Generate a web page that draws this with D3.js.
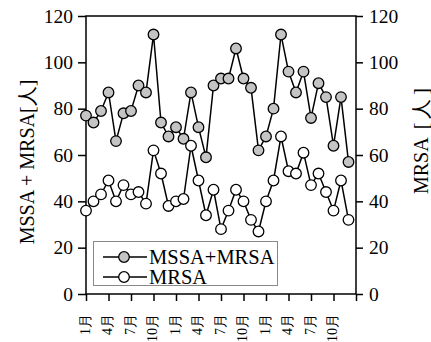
<!DOCTYPE html>
<html>
<head>
<meta charset="utf-8">
<script src="https://cdn.jsdelivr.net/npm/d3@7"></script>
<style>
  body { margin: 0; background: #fff; }
  svg { display: block; font-family: "Liberation Serif", "Times New Roman", Times, "DejaVu Serif", serif; }
</style>
</head>
<body>
<svg id="chart" width="431" height="342"></svg>
<script>
// Data
const monthIndex = d3.range(36);
const totalCases = [77, 74, 79, 87, 66, 78, 79, 90, 87, 112, 74, 68, 72, 67, 87, 72, 59, 90,
                    93, 93, 106, 93, 89, 62, 68, 80, 112, 96, 87, 96, 76, 91, 85, 64, 85, 57];
const mrsaCases = [36, 40, 43, 49, 40, 47, 43, 44, 39, 62, 52, 38, 40, 41, 64, 49, 34, 45,
                   28, 36, 45, 40, 32, 27, 40, 49, 68, 53, 52, 61, 47, 52, 44, 36, 49, 32];
const tickMonths = [0, 3, 6, 9, 12, 15, 18, 21, 24, 27, 30, 33];
const tickLabels = ['1月', '4月', '7月', '10月', '1月', '4月', '7月', '10月', '1月', '4月', '7月', '10月'];
const yTicks = [0, 20, 40, 60, 80, 100, 120];

const svg = d3.select('#chart');
const plotL = 86, plotR = 356, plotT = 16, plotB = 294;

const x = d3.scaleLinear().domain([0, 36]).range([plotL, plotR]);
const yL = d3.scaleLinear().domain([0, 120]).range([plotB, plotT]);
const yR = d3.scaleLinear().domain([0, 120]).range([plotB, plotT]);

// Frame
svg.append('rect')
    .attr('x', plotL).attr('y', plotT)
    .attr('width', plotR - plotL).attr('height', plotB - plotT)
    .attr('fill', 'none').attr('stroke', '#000').attr('stroke-width', 1.5);

// Left axis
const axL = svg.append('g')
    .attr('transform', `translate(${plotL},0)`)
    .call(d3.axisLeft(yL).tickValues(yTicks).tickSize(8).tickPadding(5));
// Right axis
const axR = svg.append('g')
    .attr('transform', `translate(${plotR},0)`)
    .call(d3.axisRight(yR).tickValues(yTicks).tickSize(7).tickPadding(6));
// Bottom axis
const axB = svg.append('g')
    .attr('transform', `translate(0,${plotB})`)
    .call(d3.axisBottom(x).tickValues(tickMonths.concat([36])).tickSize(7).tickFormat(''));

[axL, axR, axB].forEach(a => {
    a.attr('font-family', null).attr('font-size', 19.5);
    a.select('.domain').remove();
    a.selectAll('line').attr('stroke', '#000').attr('stroke-width', 1.5);
    a.selectAll('text').attr('fill', '#000');
});

// Rotated month labels
svg.selectAll('.xlab')
    .data(tickMonths)
    .enter()
    .append('text')
    .attr('class', 'xlab')
    .attr('transform', (d) => `translate(${x(d) - 1},314) rotate(-90)`)
    .attr('text-anchor', 'end')
    .attr('dy', '0.35em')
    .attr('font-size', 14)
    .text((d, i) => tickLabels[i]);

// Axis titles
svg.append('text')
    .attr('transform', `translate(27,162) rotate(-90)`)
    .attr('text-anchor', 'middle')
    .attr('dy', '0.35em')
    .attr('font-size', 20)
    .text('MSSA + MRSA[人]');

const rTitle = svg.append('text')
    .attr('transform', `translate(421,141) rotate(-90)`)
    .attr('text-anchor', 'middle')
    .attr('dy', '0.35em')
    .attr('font-size', 20);
rTitle.append('tspan').text('MRSA');
rTitle.append('tspan').attr('dx', 8).text('[');
rTitle.append('tspan').attr('dx', 4).text('人');
rTitle.append('tspan').attr('dx', 4).text(']');

// Lines and markers
const series = [
    { values: totalCases, scale: yL, fill: '#c4c4c4' },
    { values: mrsaCases, scale: yR, fill: '#fff' }
];

series.forEach(s => {
    const line = d3.line()
        .x((d, i) => x(monthIndex[i]))
        .y(d => s.scale(d));
    svg.append('path')
        .datum(s.values)
        .attr('d', line)
        .attr('fill', 'none')
        .attr('stroke', '#000')
        .attr('stroke-width', 1.5);
    svg.append('g')
        .selectAll('circle')
        .data(s.values)
        .enter()
        .append('circle')
        .attr('cx', (d, i) => x(monthIndex[i]))
        .attr('cy', d => s.scale(d))
        .attr('r', 5.3)
        .attr('fill', s.fill)
        .attr('stroke', '#000')
        .attr('stroke-width', 1.3);
});

// Legend
const legend = svg.append('g');
legend.append('rect')
    .attr('x', 93.5).attr('y', 241.5)
    .attr('width', 184).attr('height', 44)
    .attr('fill', '#fff').attr('stroke', '#888').attr('stroke-width', 1);

const legendItems = [
    { label: 'MSSA+MRSA', fill: '#c4c4c4', y: 257 },
    { label: 'MRSA', fill: '#fff', y: 277 }
];
legendItems.forEach(d => {
    legend.append('line')
        .attr('x1', 103).attr('x2', 147)
        .attr('y1', d.y).attr('y2', d.y)
        .attr('stroke', '#000').attr('stroke-width', 1.5);
    legend.append('circle')
        .attr('cx', 124).attr('cy', d.y).attr('r', 5.3)
        .attr('fill', d.fill).attr('stroke', '#000').attr('stroke-width', 1.3);
    legend.append('text')
        .attr('x', 149).attr('y', d.y)
        .attr('dy', '0.35em')
        .attr('font-size', 20.5)
        .text(d.label);
});
</script>
</body>
</html>
